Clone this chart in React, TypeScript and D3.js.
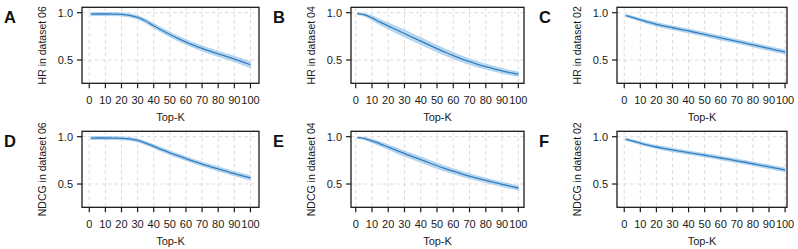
import * as d3 from 'd3'

// Top-K sample points shared by every panel
const topK = [1, 5, 10, 15, 20, 25, 30, 35, 40, 45, 50, 55, 60, 65, 70, 75, 80, 85, 90, 95, 100]
const xTicks = [0, 10, 20, 30, 40, 50, 60, 70, 80, 90, 100]
const yTicks = [0.5, 1.0]

const panelLetters = ['A', 'B', 'C', 'D', 'E', 'F']
const yLabels = [
  'HR in dataset 06',
  'HR in dataset 04',
  'HR in dataset 02',
  'NDCG in dataset 06',
  'NDCG in dataset 04',
  'NDCG in dataset 02',
]

const hr06 = [0.985, 0.986, 0.986, 0.985, 0.982, 0.972, 0.95, 0.912, 0.862, 0.815, 0.77, 0.728, 0.69, 0.655, 0.623, 0.593, 0.565, 0.538, 0.51, 0.48, 0.45]
const hr06Sd = [0.016, 0.016, 0.016, 0.016, 0.016, 0.017, 0.019, 0.021, 0.023, 0.024, 0.025, 0.026, 0.026, 0.027, 0.027, 0.028, 0.028, 0.029, 0.029, 0.03, 0.03]
const hr04 = [0.99, 0.98, 0.945, 0.9, 0.86, 0.82, 0.78, 0.74, 0.7, 0.66, 0.62, 0.583, 0.547, 0.513, 0.482, 0.455, 0.43, 0.407, 0.386, 0.367, 0.35]
const hr04Sd = [0.01, 0.015, 0.022, 0.028, 0.032, 0.035, 0.036, 0.037, 0.037, 0.036, 0.035, 0.034, 0.033, 0.031, 0.03, 0.028, 0.027, 0.026, 0.025, 0.024, 0.023]
const hr02 = [0.97, 0.95, 0.925, 0.9, 0.877, 0.858, 0.841, 0.824, 0.807, 0.789, 0.771, 0.752, 0.733, 0.715, 0.697, 0.679, 0.66, 0.641, 0.622, 0.603, 0.585]
const hr02Sd = [0.012, 0.014, 0.016, 0.018, 0.019, 0.02, 0.02, 0.02, 0.021, 0.021, 0.021, 0.021, 0.021, 0.021, 0.021, 0.021, 0.021, 0.022, 0.022, 0.022, 0.022]
const ndcg06 = [0.985, 0.986, 0.986, 0.985, 0.983, 0.976, 0.96, 0.932, 0.898, 0.863, 0.83, 0.799, 0.769, 0.739, 0.711, 0.685, 0.66, 0.635, 0.61, 0.587, 0.565]
const ndcg06Sd = [0.015, 0.015, 0.015, 0.015, 0.015, 0.016, 0.017, 0.018, 0.019, 0.02, 0.02, 0.021, 0.021, 0.021, 0.021, 0.022, 0.022, 0.022, 0.022, 0.023, 0.023]
const ndcg04 = [0.99, 0.982, 0.955, 0.925, 0.89, 0.855, 0.822, 0.79, 0.758, 0.725, 0.693, 0.663, 0.635, 0.608, 0.583, 0.56, 0.538, 0.517, 0.497, 0.477, 0.458]
const ndcg04Sd = [0.008, 0.012, 0.018, 0.022, 0.025, 0.027, 0.028, 0.029, 0.029, 0.029, 0.028, 0.027, 0.027, 0.026, 0.025, 0.024, 0.024, 0.023, 0.023, 0.022, 0.022]
const ndcg02 = [0.972, 0.955, 0.932, 0.91, 0.891, 0.875, 0.86, 0.846, 0.832, 0.818, 0.804, 0.79, 0.775, 0.76, 0.745, 0.73, 0.714, 0.698, 0.682, 0.666, 0.65]
const ndcg02Sd = [0.012, 0.013, 0.015, 0.016, 0.017, 0.018, 0.018, 0.018, 0.018, 0.018, 0.018, 0.018, 0.019, 0.019, 0.019, 0.019, 0.019, 0.02, 0.02, 0.02, 0.02]

const means = [hr06, hr04, hr02, ndcg06, ndcg04, ndcg02]
const spreads = [hr06Sd, hr04Sd, hr02Sd, ndcg06Sd, ndcg04Sd, ndcg02Sd]

const W = 798
const H = 249
const FONT = 'Liberation Sans, Arial, Helvetica, sans-serif'
const LINE = '#2f7ec1'
const BAND = '#9cc6e8'
const INK = '#1a1a1a'

const COLS = [
  { x0: 82, x1: 259, dom: [-4.5, 105.3] },
  { x0: 351, x1: 524, dom: [-2.9, 103.5] },
  { x0: 617, x1: 787, dom: [-4.5, 101.2] },
]
const ROWS = [
  { y0: 7.3, y1: 83.3 },
  { y0: 131.3, y1: 207.3 },
]
const Y_DOMAIN = [0.254, 1.057]

type Pt = { k: number; m: number; s: number }

function Panel({ idx }: { idx: number }) {
  const col = COLS[idx % 3]
  const row = ROWS[Math.floor(idx / 3)]
  const x = d3.scaleLinear().domain(col.dom).range([col.x0, col.x1])
  const y = d3.scaleLinear().domain(Y_DOMAIN).range([row.y1, row.y0])
  const pts: Pt[] = topK.map((k, i) => ({ k, m: means[idx][i], s: spreads[idx][i] }))

  const line = d3
    .line<Pt>()
    .x((d) => x(d.k))
    .y((d) => y(d.m))
    .curve(d3.curveMonotoneX)
  const area = d3
    .area<Pt>()
    .x((d) => x(d.k))
    .y0((d) => y(d.m - d.s))
    .y1((d) => y(d.m + d.s))
    .curve(d3.curveMonotoneX)

  const cx = (col.x0 + col.x1) / 2
  const cy = (row.y0 + row.y1) / 2

  return (
    <g fontFamily={FONT}>
      {xTicks.map((t) => (
        <line key={'gx' + t} x1={x(t)} x2={x(t)} y1={row.y0} y2={row.y1} stroke="#d6d6d6" strokeWidth={0.9} strokeDasharray="3.5,3" />
      ))}
      {yTicks.map((t) => (
        <line key={'gy' + t} x1={col.x0} x2={col.x1} y1={y(t)} y2={y(t)} stroke="#d6d6d6" strokeWidth={0.9} strokeDasharray="3.5,3" />
      ))}
      <path d={area(pts) ?? ''} fill={BAND} fillOpacity={0.7} stroke={BAND} strokeWidth={0.6} />
      <path d={line(pts) ?? ''} fill="none" stroke={LINE} strokeWidth={1.3} />
      <rect x={col.x0} y={row.y0} width={col.x1 - col.x0} height={row.y1 - row.y0} fill="none" stroke={INK} strokeWidth={1.3} />
      {xTicks.map((t) => (
        <g key={'xt' + t}>
          <line x1={x(t)} x2={x(t)} y1={row.y1} y2={row.y1 + 5} stroke={INK} strokeWidth={1.2} />
          <text x={x(t)} y={row.y1 + 20.5} fontSize={11} fill={INK} textAnchor="middle">
            {t}
          </text>
        </g>
      ))}
      {yTicks.map((t) => (
        <g key={'yt' + t}>
          <line x1={col.x0 - 5} x2={col.x0} y1={y(t)} y2={y(t)} stroke={INK} strokeWidth={1.2} />
          <text x={col.x0 - 9} y={y(t) + 3.9} fontSize={11} fill={INK} textAnchor="end">
            {d3.format('.1f')(t)}
          </text>
        </g>
      ))}
      <text x={cx} y={row.y1 + 37.7} fontSize={11} fill={INK} textAnchor="middle">
        Top-K
      </text>
      <text
        transform={`translate(${col.x0 - 36},${cy}) rotate(-90)`}
        fontSize={10.5}
        fill={INK}
        textAnchor="middle"
      >
        {yLabels[idx]}
      </text>
      <text x={col.x0 - 78} y={row.y0 + 16} fontSize={16.5} fontWeight="bold" fill="#111">
        {panelLetters[idx]}
      </text>
    </g>
  )
}

export default function App() {
  return (
    <svg
      width={W}
      height={H}
      viewBox={`0 0 ${W} ${H}`}
      style={{ position: 'absolute', left: 0, top: 0, background: '#fff' }}
    >
      {panelLetters.map((_, i) => (
        <Panel key={i} idx={i} />
      ))}
    </svg>
  )
}
